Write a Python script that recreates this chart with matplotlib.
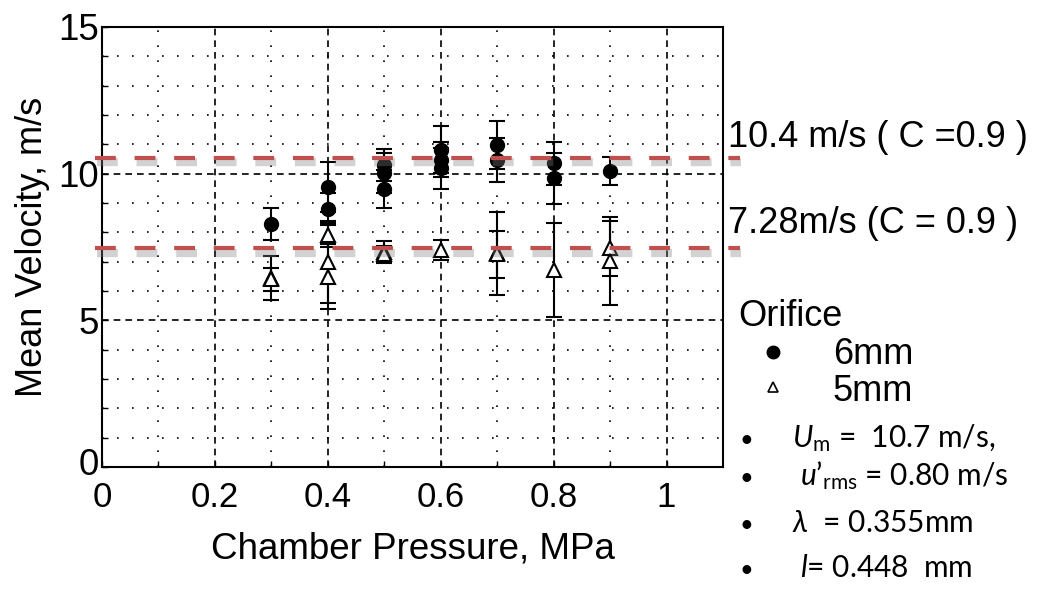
import numpy as np
import matplotlib.pyplot as plt
import matplotlib.patheffects as pe
import matplotlib.transforms as mtrans
from matplotlib.lines import Line2D

plt.rcParams['font.family'] = ['Liberation Sans', 'DejaVu Sans']
plt.rcParams['mathtext.fontset'] = 'custom'
plt.rcParams['mathtext.rm'] = 'Lato'
plt.rcParams['mathtext.it'] = 'Lato:italic'

# 6 mm orifice
x6 = [0.3, 0.4, 0.4, 0.5, 0.5, 0.5, 0.6, 0.6, 0.6, 0.7, 0.7, 0.8, 0.8, 0.9]
y6 = [8.28, 9.56, 8.79, 10.30, 10.01, 9.47, 10.81, 10.47, 10.18, 10.98, 10.47, 10.35, 9.84, 10.10]
e6 = [0.55, 0.85, 0.55, 0.55, 0.68, 0.65, 0.80, 0.60, 0.70, 0.83, 0.75, 0.74, 0.86, 0.48]

# 5 mm orifice
x5 = [0.3, 0.3, 0.4, 0.4, 0.4, 0.5, 0.5, 0.6, 0.7, 0.7, 0.8, 0.9, 0.9]
y5 = [6.44, 6.40, 7.91, 7.00, 6.49, 7.34, 7.25, 7.40, 7.28, 7.25, 6.72, 7.45, 7.03]
e5 = [0.75, 0.40, 0.40, 1.40, 1.10, 0.35, 0.30, 0.33, 1.40, 0.80, 1.60, 0.95, 1.50]

ref_levels = [10.55, 7.45]
ref_labels = ['10.4 m/s ( C =0.9 )', '7.28m/s (C = 0.9 )']

xticks = [0, 0.2, 0.4, 0.6, 0.8, 1.0]
xticklabels = ['0', '0.2', '0.4', '0.6', '0.8', '1']
yticks = [0, 5, 10, 15]

legend_title = 'Orifice'
legend_labels = ['6mm', '5mm']
notes = [r'$U_{\mathrm{m}}$ =  10.7 m/s,',
         r'$u’_{\mathrm{rms}}$ = 0.80 m/s',
         r'$\lambda$  = 0.355mm',
         r'$l$= 0.448  mm']

fig = plt.figure(figsize=(10.38, 5.89), dpi=100)
ax = fig.add_axes([0.0983, 0.2071, 0.5982, 0.7471])

ax.set_xlim(0, 1.1)
ax.set_ylim(0, 15)
ax.set_xticks(xticks)
ax.set_xticklabels(xticklabels)
ax.set_yticks(yticks)
ax.set_xticks(np.arange(0.1, 1.1, 0.1), minor=True)
ax.set_yticks(np.arange(1, 15, 1), minor=True)
ax.tick_params(which='both', direction='in', length=4, width=1)
ax.tick_params(axis='x', labelsize=25, pad=10)
ax.tick_params(axis='y', labelsize=26.5, pad=2)
for s in ax.spines.values():
    s.set_linewidth(1.5)

# nudge the y "0" up a little so it does not sit on the x "0"
fig.canvas.draw()
y0 = ax.get_yticklabels()[0]
y0.set_transform(y0.get_transform() +
                 mtrans.ScaledTranslation(0, 4 / 72, fig.dpi_scale_trans))

ax.grid(which='minor', color='black', linestyle=(0, (1, 8)), linewidth=1.2)
ax.grid(which='major', color='black', linestyle=(0, (4, 3)), linewidth=1.2)
ax.set_axisbelow(True)

ax.errorbar(x6, y6, yerr=e6, fmt='o', color='black', ms=10, capsize=6,
            elinewidth=1.5, capthick=1.5, zorder=5)
ax.errorbar(x5, y5, yerr=e5, fmt='^', color='black', mfc='white', ms=10,
            mew=1.5, capsize=6, elinewidth=1.5, capthick=1.5, zorder=5)

tr = ax.get_yaxis_transform()
shadow = [pe.SimpleLineShadow(offset=(1, -3), shadow_color='#808080',
                              alpha=0.35, linewidth=6),
          pe.Normal()]
for lv in ref_levels:
    ax.plot([-0.011, 1.027], [lv, lv], transform=tr, clip_on=False,
            color='#C0504D', lw=3, linestyle=(0, (5, 4.5)), zorder=7,
            path_effects=shadow)

fig.text(728 / 1038, 1 - 147 / 589, ref_labels[0], fontsize=26, va='baseline')
fig.text(728 / 1038, 1 - 233 / 589, ref_labels[1], fontsize=26, va='baseline')

ax.set_xlabel('Chamber Pressure, MPa', fontsize=26.5, labelpad=13)
ax.set_ylabel('Mean Velocity, m/s', fontsize=26, labelpad=6)

# legend block
fig.text(738 / 1038, 1 - 326 / 589, legend_title, fontsize=26, va='baseline')
fig.add_artist(Line2D([773 / 1038], [1 - 352 / 589], marker='o', color='black',
                      ms=9, transform=fig.transFigure))
fig.add_artist(Line2D([773 / 1038], [1 - 387 / 589], marker='^', color='black',
                      mfc='white', ms=7, mew=1.2, transform=fig.transFigure))
fig.text(833 / 1038, 1 - 364 / 589, legend_labels[0], fontsize=26, va='baseline')
fig.text(833 / 1038, 1 - 401 / 589, legend_labels[1], fontsize=26, va='baseline')

bullet_y = [447, 485, 532, 577]
text_x = [792, 800, 792, 800]
for by, tx, note in zip(bullet_y, text_x, notes):
    fig.text(740 / 1038, 1 - by / 589, '\u2022', fontsize=17, va='baseline',
             family=['Lato', 'DejaVu Sans'])
    fig.text(tx / 1038, 1 - by / 589, note, fontsize=21.5, va='baseline',
             family=['Lato', 'DejaVu Sans'])

fig.savefig('out.png', dpi=100)
